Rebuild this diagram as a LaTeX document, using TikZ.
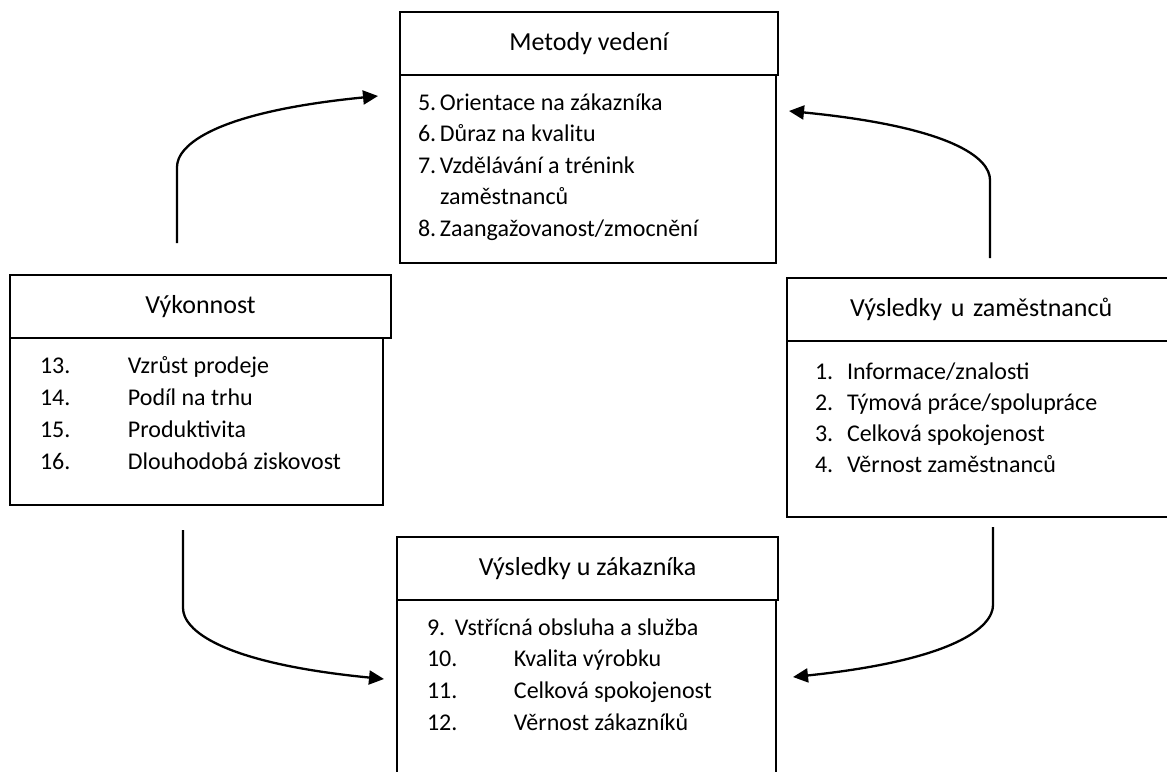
\documentclass[tikz,border=0pt]{standalone}
\usepackage{fontspec}
\setmainfont{Carlito}
\usetikzlibrary{arrows.meta}
\tikzset{
 titlebox/.style={draw, line width=2.6pt, anchor=north west, inner sep=0pt, outer sep=0pt, font=\fontsize{26}{31}\selectfont},
 bodybox/.style={draw, line width=1.6pt, anchor=north west, inner sep=0pt, outer sep=0pt},
 listtext/.style={anchor=base west, inner sep=0pt, outer sep=0pt},
 conn/.style={line width=2.3pt, -{Triangle[length=15pt,width=14pt]}},
}
\begin{document}
\begin{tikzpicture}[x=1pt,y=-1pt]
\useasboundingbox (0,0) rectangle (1167,771);
\clip (0,0) rectangle (1167,771);
\fill[white] (0,0) rectangle (1167,771);

% Metody vedeni
\node[bodybox, minimum width=376pt, minimum height=188pt] (mb) at (400,75) {};
\node[titlebox, minimum width=378pt, minimum height=63pt] (mt) at (400,12) {Metody vedení};
\node[listtext, font=\fontsize{24}{31.6}\selectfont] (ml) at (418,110)
 {\begin{tabular}[t]{@{}p{22pt}@{}l@{}}5.&Orientace na zákazníka\\6.&Důraz na kvalitu\\7.&Vzdělávání a trénink\\&zaměstnanců\\8.&Zaangažovanost/zmocnění\end{tabular}};

% Vykonnost
\node[bodybox, minimum width=373pt, minimum height=167pt] (vb) at (10,338) {};
\node[titlebox, minimum width=381pt, minimum height=63pt] (vt) at (10,275) {Výkonnost};
\node[listtext, font=\fontsize{24}{32.3}\selectfont] (vl) at (40,373)
 {\begin{tabular}[t]{@{}p{88pt}@{}l@{}}13.&Vzrůst prodeje\\14.&Podíl na trhu\\15.&Produktivita\\16.&Dlouhodobá ziskovost\end{tabular}};

% Vysledky u zamestnancu
\node[bodybox, minimum width=390pt, minimum height=176pt] (zb) at (787,341) {};
\node[titlebox, minimum width=390pt, minimum height=63pt, text width=380pt, align=left] (zt) at (787,278) {\hspace*{58pt}Výsledky u zaměstnanců};
\node[listtext, font=\fontsize{24}{31}\selectfont] (zl) at (815,379)
 {\begin{tabular}[t]{@{}p{32pt}@{}l@{}}1.&Informace/znalosti\\2.&Týmová práce/spolupráce\\3.&Celková spokojenost\\4.&Věrnost zaměstnanců\end{tabular}};

% Vysledky u zakaznika
\node[bodybox, minimum width=379pt, minimum height=190pt] (kb) at (397,600) {};
\node[titlebox, minimum width=381pt, minimum height=63pt] (kt) at (397,537) {Výsledky u zákazníka};
\node[listtext, font=\fontsize{24}{31.7}\selectfont] (kl) at (427,635)
 {\begin{tabular}[t]{@{}p{87pt}@{}l@{}}\multicolumn{2}{@{}l@{}}{\makebox[28pt][l]{9.}Vstřícná obsluha a služba}\\10.&Kvalita výrobku\\11.&Celková spokojenost\\12.&Věrnost zákazníků\end{tabular}};

% connectors
\coordinate (a1s) at (177,243); \coordinate (a1m) at (177,167); \coordinate (a1e) at (378,96);
\coordinate (a2s) at (990,258); \coordinate (a2m) at (990,180); \coordinate (a2e) at (789,111);
\coordinate (a3s) at (183,530); \coordinate (a3m) at (183,608); \coordinate (a3e) at (384,679);
\coordinate (a4s) at (993,527); \coordinate (a4m) at (993,605); \coordinate (a4e) at (793,677);
\draw[conn] (a1s) -- (a1m) .. controls (177,145) and (215,112) .. (a1e);
\draw[conn] (a2s) -- (a2m) .. controls (990,158) and (952,127) .. (a2e);
\draw[conn] (a3s) -- (a3m) .. controls (183,630) and (221,663) .. (a3e);
\draw[conn] (a4s) -- (a4m) .. controls (993,627) and (955,660) .. (a4e);
\end{tikzpicture}
\end{document}
